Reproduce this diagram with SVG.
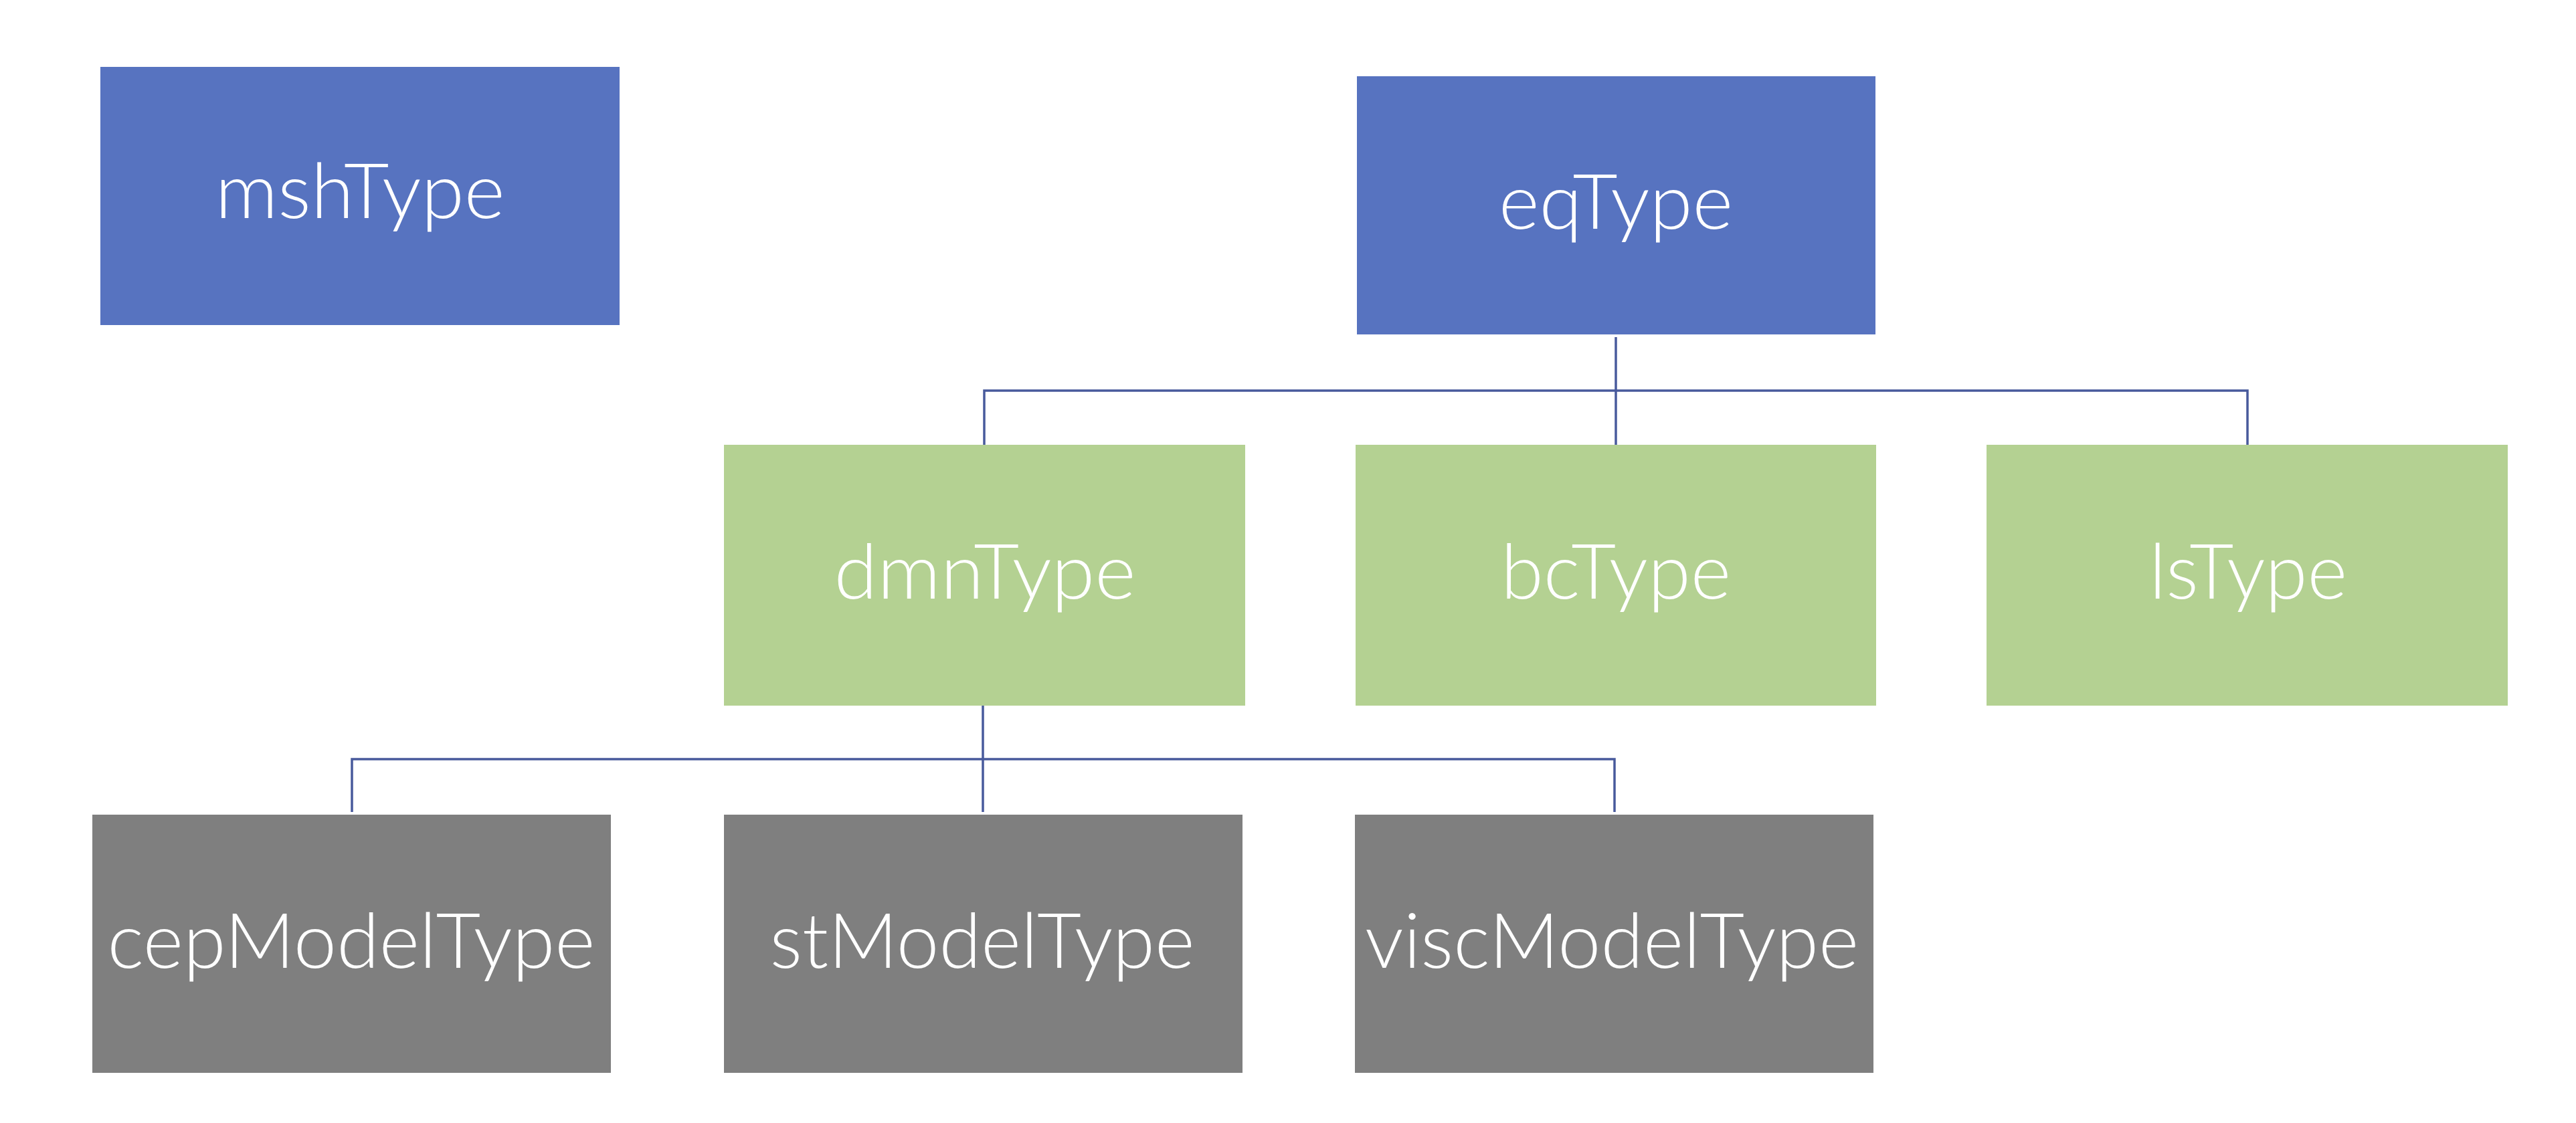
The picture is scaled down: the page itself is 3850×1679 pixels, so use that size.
<svg xmlns="http://www.w3.org/2000/svg" width="3850" height="1679" viewBox="0 0 3850 1679">
<style>
.blue{fill:#5773C0}
.green{fill:#B4D192}
.gray{fill:#7F7F7F}
.lbl{font-family:Lato,"Open Sans","Liberation Sans",sans-serif;font-weight:300;font-size:114px;fill:#FFFFFF;text-anchor:middle}
.conn{fill:none;stroke:#485A9C;stroke-width:3.5}
</style>
<rect width="3850" height="1679" fill="#FFFFFF"/>
<g id="connectors">
<path class="conn" d="M2415,504 V665"/>
<path class="conn" d="M1471,665 V584 H3359 V665"/>
<path class="conn" d="M1469,1055 V1214"/>
<path class="conn" d="M526,1214 V1135 H2413 V1214"/>
</g>
<g id="mshType"><rect class="blue" x="150" y="100" width="776" height="386"/><text class="lbl" x="538" y="326" textLength="433" lengthAdjust="spacingAndGlyphs">mshType</text></g>
<g id="eqType"><rect class="blue" x="2028" y="114" width="775" height="386"/><text class="lbl" x="2415" y="342" textLength="350" lengthAdjust="spacingAndGlyphs">eqType</text></g>
<g id="dmnType"><rect class="green" x="1082" y="665" width="779" height="390"/><text class="lbl" x="1472" y="895" textLength="451" lengthAdjust="spacingAndGlyphs">dmnType</text></g>
<g id="bcType"><rect class="green" x="2026" y="665" width="778" height="390"/><text class="lbl" x="2415" y="895" textLength="344" lengthAdjust="spacingAndGlyphs">bcType</text></g>
<g id="lsType"><rect class="green" x="2969" y="665" width="779" height="390"/><text class="lbl" x="3360" y="895" textLength="296" lengthAdjust="spacingAndGlyphs">lsType</text></g>
<g id="cepModelType"><rect class="gray" x="138" y="1218" width="775" height="386"/><text class="lbl" x="525" y="1447" textLength="729" lengthAdjust="spacingAndGlyphs">cepModelType</text></g>
<g id="stModelType"><rect class="gray" x="1082" y="1218" width="775" height="386"/><text class="lbl" x="1468" y="1447" textLength="635" lengthAdjust="spacingAndGlyphs">stModelType</text></g>
<g id="viscModelType"><rect class="gray" x="2025" y="1218" width="775" height="386"/><text class="lbl" x="2409" y="1447" textLength="738" lengthAdjust="spacingAndGlyphs">viscModelType</text></g>
</svg>
